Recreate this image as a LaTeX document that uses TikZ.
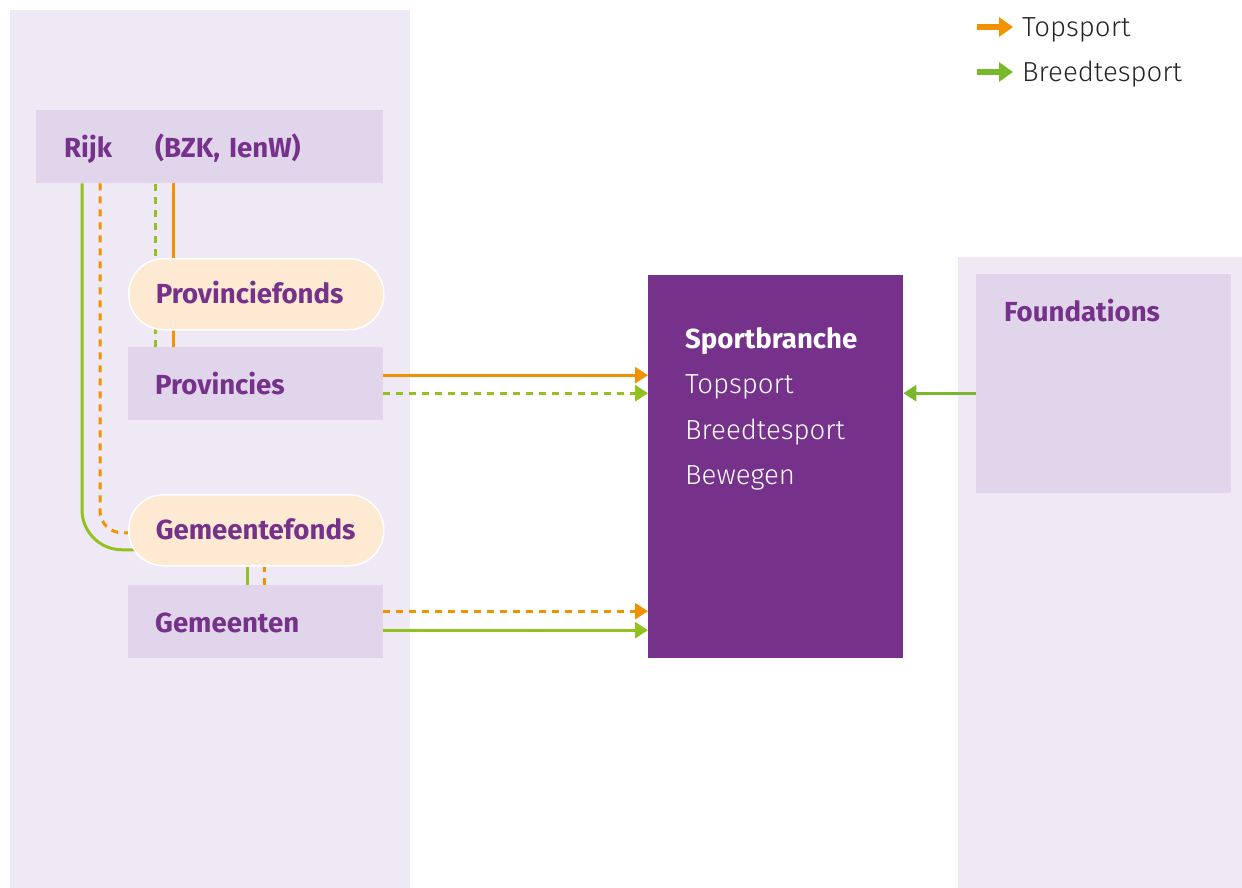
\documentclass[tikz,border=0pt]{standalone}
\usepackage{fontspec}
\setmainfont{Fira Sans}
\newfontfamily\lightfont{Fira Sans Light}
\usetikzlibrary{arrows.meta}
\pgfdeclarelayer{panel}
\pgfdeclarelayer{lines}
\pgfsetlayers{panel,lines,main}
\definecolor{panelbg}{HTML}{EFE9F5}
\definecolor{boxbg}{HTML}{E1D5EB}
\definecolor{fondsbg}{HTML}{FEE9D3}
\definecolor{purp}{HTML}{76318A}
\definecolor{topor}{HTML}{F39200}
\definecolor{breedgr}{HTML}{93C120}
\definecolor{foundgr}{HTML}{78B82A}

\begin{document}
\begin{tikzpicture}[x=1pt,y=-1pt,
    orgbox/.style={fill=boxbg,text=purp,font=\fontsize{27.6}{32}\selectfont\bfseries,
      anchor=north west,inner xsep=27pt,inner ysep=0pt,text width=201pt,align=left,
      text height=47pt,text depth=26pt},
    fonds/.style={orgbox,fill=fondsbg,draw=white,line width=1.5pt,rounded corners=35pt,
      text height=45pt,text depth=26pt},
    topline/.style={topor,line width=3pt},
    breedline/.style={breedgr,line width=3pt},
    dashpat/.style={dash pattern=on 7pt off 6pt},
    flow/.style={-{Triangle[length=13pt,width=16pt]}},
    legend/.style={font=\fontsize{27.6}{32}\selectfont\lightfont,text=black!85,inner sep=0pt,
      text height=20pt,text depth=0pt,anchor=base west},
    legarrow/.style={line width=6pt,-{Triangle[length=14pt,width=19pt]}}]
    \useasboundingbox (0,0) rectangle (1242,888);
    %panels
    \begin{pgfonlayer}{panel}
      \fill [panelbg] (10,10) rectangle (410,888);
      \fill [panelbg] (958,257) rectangle (1242,888);
    \end{pgfonlayer}
    %government
    \node [orgbox,text width=291pt,inner xsep=28pt] (rijk) at (36,110)
          {\makebox[91pt][l]{Rijk}(BZK, IenW)};
    \node [fonds] (pfonds) at (128,258) {Provinciefonds};
    \node [orgbox] (prov) at (128,347) {Provincies};
    \node [fonds] (gfonds) at (128,494) {Gemeentefonds};
    \node [orgbox] (gem) at (128,585) {Gemeenten};
    %sport
    \node [fill=purp,text=white,font=\fontsize{27.6}{32}\selectfont,anchor=north west,
           inner xsep=37pt,inner ysep=0pt,text height=73pt,text depth=310pt] (sport) at (648,275)
          {\parbox[t]{181pt}{\baselineskip=45.5pt\textbf{Sportbranche}\\
                            {\lightfont Topsport}\\ {\lightfont Breedtesport}\\ {\lightfont Bewegen}}};
    \node [orgbox,text width=199pt,inner xsep=28pt,text height=47pt,text depth=172pt] (found) at (976,274)
          {Foundations};
    %legend
    \node [legend] (legtop) at (1022,37) {Topsport};
    \node [legend] (legbreed) at (1022,82) {Breedtesport};
    \draw [legarrow,topor] ([xshift=-45pt]legtop.west) -- ([xshift=-9pt]legtop.west);
    \draw [legarrow,foundgr] ([xshift=-45pt]legbreed.west) -- ([xshift=-9pt]legbreed.west);
    %money streams
    \coordinate (provtop) at ([yshift=8.5pt]prov.east);
    \coordinate (provbreed) at ([yshift=-9.5pt]prov.east);
    \coordinate (gemtop) at ([yshift=10.5pt]gem.east);
    \coordinate (gembreed) at ([yshift=-8.5pt]gem.east);
    \coordinate (foundbreed) at ([yshift=-9.5pt]found.west);
    \begin{pgfonlayer}{lines}
      \draw [breedline,rounded corners=40pt] ([xshift=46pt]rijk.south west)
            |- ([xshift=10pt,yshift=-19.5pt]gfonds.west);
      \draw [topline,dashpat,rounded corners=22pt] ([xshift=64pt]rijk.south west)
            |- ([xshift=5pt,yshift=-2.5pt]gfonds.west);
      \draw [breedline,dashpat] ([xshift=27pt]prov.north west) -- ([xshift=27pt]prov.north west |- rijk.south);
      \draw [topline] ([xshift=45pt]prov.north west) -- ([xshift=45pt]prov.north west |- rijk.south);
      \draw [breedline] ([xshift=119pt]gem.north west) -- ([xshift=119pt]gem.north west |- gfonds.south);
      \draw [topline,dashpat] ([xshift=136pt]gem.north west) -- ([xshift=136pt]gem.north west |- gfonds.south);
      \draw [topline,flow] (provtop) -- (provtop -| sport.west);
      \draw [breedline,dashpat,flow] (provbreed) -- (provbreed -| sport.west);
      \draw [topline,dashpat,flow] (gemtop) -- (gemtop -| sport.west);
      \draw [breedline,flow] (gembreed) -- (gembreed -| sport.west);
      \draw [breedline,foundgr,flow] (foundbreed) -- (foundbreed -| sport.east);
    \end{pgfonlayer}
\end{tikzpicture}
\end{document}
